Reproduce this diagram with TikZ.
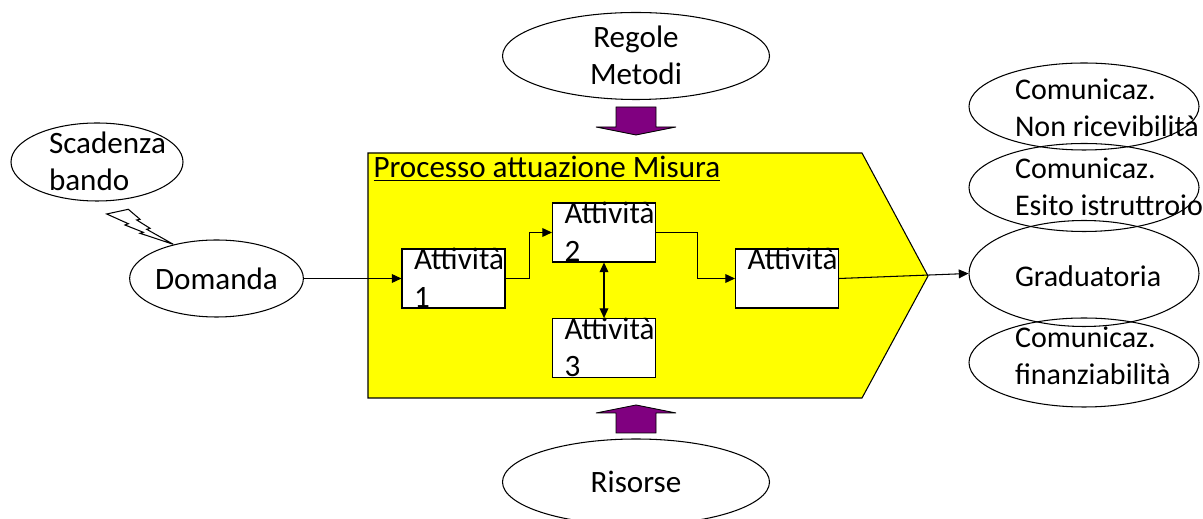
\documentclass[tikz,border=0pt]{standalone}
\usepackage{fontspec}
\setmainfont{Carlito}
\usetikzlibrary{positioning, arrows.meta, shapes.geometric, calc}
\definecolor{procYellow}{HTML}{FFFF00}
\definecolor{inPurple}{HTML}{800080}
\newcommand{\px}{0.02cm}
\newcommand{\lbl}{\fontsize{17.7pt}{21.5pt}\selectfont}
\newcommand{\outlbl}{\fontsize{17.1pt}{21.3pt}\selectfont}

\begin{document}
\begin{tikzpicture}[
  x=0.02cm, y=-0.02cm,
  font=\lbl,
  line width=0.6pt,
  >={Triangle[length=5.5pt, width=5pt]},
  oval/.style={ellipse, draw, inner sep=0pt},
  actbox/.style={rectangle, draw, fill=white, inner sep=0pt,
                 minimum width=103*\px, minimum height=59*\px},
  txt/.style={align=left, inner sep=0pt},
  outtxt/.style={txt, font=\outlbl},
  conn/.style={->},
  blockarrow/.style={draw, fill=inPurple, line width=0.5pt},
]
\useasboundingbox (0,0) rectangle (1203,519);

% ===== process shape ========================================================
\draw[fill=procYellow] (368,153) coordinate (pnw) -- (862,153)
  -- (928,276) coordinate (tip) -- (862,398) -- (368,398) -- cycle;
\node[txt, anchor=base west] (title) at ([shift={(5,25)}]pnw)
  {\underline{Processo attuazione Misura}};

% ===== activities (base = last line) =======================================
\node[actbox] (a1) at (453.5,278.5) {};
\node[txt, anchor=base west] (a1t) at ([shift={(12,59)}]a1.north west) {Attività\\1};
\node[actbox] (a2) at (604,232.5) {};
\node[txt, anchor=base west] (a2t) at ([shift={(12,59)}]a2.north west) {Attività\\2};
\node[actbox] (a3) at (604,348) {};
\node[txt, anchor=base west] (a3t) at ([shift={(12,59)}]a3.north west) {Attività\\3};
\node[actbox] (a4) at (787,278.5) {};
\node[txt, anchor=base west] (a4t) at ([shift={(12,21)}]a4.north west) {Attività};

% ===== input side ===========================================================
\node[oval, minimum width=172*\px, minimum height=78*\px] (scad) at (97,162) {};
\node[txt, anchor=base west] (scadt) at ([shift={(38,29)}]scad.west) {Scadenza\\bando};
\draw[fill=white] (106.7,214) -- (128.3,209.3) -- (140,219.3) -- (136.7,220)
  -- (150,228.3) -- (146.7,229.3) -- (173.3,244.3) -- (140,233.3)
  -- (143.3,232.3) -- (125,225) -- (128.3,223.7) -- cycle;
\node[oval, minimum width=171*\px, minimum height=77*\px] (dom) at (216.5,278.5) {Domanda};

% ===== controls and resources ==============================================
\node[oval, minimum width=267*\px, minimum height=87*\px] (reg) at (636,56) {};
\node[txt, align=center, anchor=base] (regt) at ([shift={(0,29)}]reg.center) {Regole\\Metodi};
\draw[blockarrow] (616,107) -- (656,107) -- (656,127) -- (676,127) -- (636,135)
  -- (596,127) -- (616,127) -- cycle;
\node[oval, minimum width=267*\px, minimum height=86*\px] (ris) at (636,482) {Risorse};
\draw[blockarrow] (616,433) -- (656,433) -- (656,413) -- (676,413) -- (636,405)
  -- (596,413) -- (616,413) -- cycle;

% ===== outputs ==============================================================
\node[oval, minimum width=230*\px, minimum height=87*\px] (nric) at (1084,106.5) {};
\node[outtxt, anchor=base west] (nrict) at ([shift={(46,30.5)}]nric.west) {Comunicaz.\\Non ricevibilità};
\node[oval, minimum width=230*\px, minimum height=88*\px] (esito) at (1084,187.5) {};
\node[outtxt, anchor=base west] (esitot) at ([shift={(46,28.5)}]esito.west) {Comunicaz.\\Esito istruttroio};
\node[oval, minimum width=230*\px, minimum height=106*\px] (grad) at (1084,273.5) {};
\node[outtxt, anchor=base west] (gradt) at ([shift={(46,13)}]grad.west) {Graduatoria};
\node[oval, minimum width=230*\px, minimum height=89*\px] (fin) at (1084,362.5) {};
\node[outtxt, anchor=base west] (fint) at ([shift={(46,22.5)}]fin.west) {Comunicaz.\\finanziabilità};

% ===== flow =================================================================
\draw[conn] (dom) -- (a1);
\draw[conn] (a1.east) -- ++(24,0) |- (a2.west);
\draw[conn] (a2.east) -- ++(41,0) |- (a4.west);
\draw[<->] (a2) -- (a3);
\draw[conn] (a4.east) -- (grad.west);

\end{tikzpicture}
\end{document}
